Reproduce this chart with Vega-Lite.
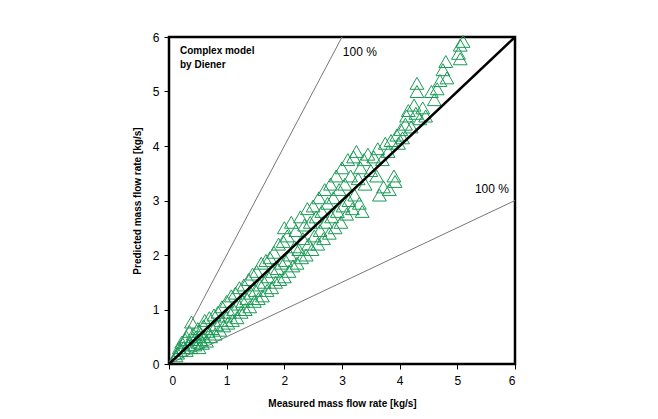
{
  "$schema": "https://vega.github.io/schema/vega-lite/v6.json",
  "autosize": "none",
  "width": 346,
  "height": 327,
  "padding": {"left": 169, "top": 37, "right": 143, "bottom": 55},
  "background": "white",
  "config": {
    "font": "Liberation Sans",
    "view": {"stroke": "#000", "strokeWidth": 2.5},
    "axis": {"grid": false, "domain": false, "tickColor": "#000", "tickSize": 5, "labelFontSize": 12, "labelColor": "#000", "titleFontSize": 10, "titleFontWeight": "bold", "titleColor": "#000", "format": "d"}
  },
  "datasets": {
    "pts": [
      {"m":0.12,"p":0.15},{"m":0.15,"p":0.2},{"m":0.18,"p":0.3},{"m":0.2,"p":0.25},{"m":0.22,"p":0.4},{"m":0.25,"p":0.3},{"m":0.28,"p":0.45},{"m":0.3,"p":0.25},{"m":0.3,"p":0.5},{"m":0.33,"p":0.35},{"m":0.35,"p":0.6},{"m":0.38,"p":0.3},{"m":0.39,"p":0.77},{"m":0.4,"p":0.45},{"m":0.42,"p":0.55},{"m":0.45,"p":0.35},{"m":0.47,"p":0.5},{"m":0.5,"p":0.65},{"m":0.5,"p":0.4},{"m":0.52,"p":0.3},{"m":0.55,"p":0.55},{"m":0.55,"p":0.45},{"m":0.58,"p":0.38},{"m":0.6,"p":0.7},{"m":0.6,"p":0.5},
      {"m":0.62,"p":0.8},{"m":0.65,"p":0.42},{"m":0.68,"p":0.6},{"m":0.7,"p":0.85},{"m":0.72,"p":0.5},{"m":0.75,"p":0.65},{"m":0.78,"p":0.9},{"m":0.8,"p":0.55},{"m":0.82,"p":0.72},{"m":0.85,"p":0.95},{"m":0.88,"p":0.62},{"m":0.9,"p":0.8},{"m":0.92,"p":1.05},{"m":0.95,"p":0.7},{"m":0.98,"p":0.88},{"m":1.0,"p":1.15},{"m":1.02,"p":0.75},{"m":1.05,"p":0.95},{"m":1.08,"p":1.25},{"m":1.1,"p":0.8},{"m":1.12,"p":1.0},{"m":1.15,"p":1.3},{"m":1.18,"p":0.85},{"m":1.2,"p":1.1},
      {"m":1.22,"p":1.4},{"m":1.25,"p":0.95},{"m":1.28,"p":1.15},{"m":1.3,"p":1.45},{"m":1.32,"p":1.0},{"m":1.35,"p":1.2},{"m":1.38,"p":1.55},{"m":1.4,"p":1.05},{"m":1.42,"p":1.3},{"m":1.45,"p":1.65},{"m":1.48,"p":1.15},{"m":1.5,"p":1.35},{"m":1.52,"p":1.7},{"m":1.55,"p":1.2},{"m":1.58,"p":1.45},{"m":1.6,"p":1.85},{"m":1.62,"p":1.25},{"m":1.65,"p":1.5},{"m":1.68,"p":1.9},{"m":1.7,"p":1.35},{"m":1.72,"p":1.6},{"m":1.75,"p":1.95},{"m":1.78,"p":1.4},{"m":1.8,"p":1.7},{"m":1.82,"p":2.05},{"m":1.85,"p":1.5},{"m":1.88,"p":1.75},{"m":1.9,"p":2.2},{"m":1.92,"p":1.55},{"m":1.95,"p":1.85},{"m":1.98,"p":2.25},{"m":2.0,"p":1.6},
      {"m":2.0,"p":2.5},{"m":2.02,"p":1.9},{"m":2.05,"p":2.35},{"m":2.08,"p":1.7},{"m":2.1,"p":2.0},{"m":2.12,"p":2.6},{"m":2.15,"p":1.8},{"m":2.18,"p":2.15},{"m":2.2,"p":2.45},{"m":2.22,"p":1.85},{"m":2.25,"p":2.1},{"m":2.28,"p":2.7},{"m":2.3,"p":1.95},{"m":2.32,"p":2.3},{"m":2.35,"p":2.55},{"m":2.38,"p":2.0},{"m":2.4,"p":2.85},{"m":2.42,"p":2.2},{"m":2.45,"p":2.6},{"m":2.48,"p":2.1},{"m":2.5,"p":2.9},{"m":2.52,"p":2.35},{"m":2.55,"p":2.7},{"m":2.58,"p":2.2},{"m":2.6,"p":3.05},{"m":2.62,"p":2.45},{"m":2.65,"p":2.8},{"m":2.68,"p":2.3},{"m":2.7,"p":3.2},{"m":2.72,"p":2.6},{"m":2.75,"p":2.95},{"m":2.78,"p":2.4},{"m":2.8,"p":3.3},{"m":2.82,"p":2.7},{"m":2.85,"p":3.05},{"m":2.88,"p":2.5},{"m":2.9,"p":3.45},{"m":2.92,"p":2.8},{"m":2.95,"p":3.2},{"m":2.98,"p":2.6},
      {"m":3.0,"p":3.6},{"m":3.02,"p":2.9},{"m":3.05,"p":3.3},{"m":3.08,"p":2.75},{"m":3.1,"p":3.75},{"m":3.12,"p":3.0},{"m":3.15,"p":3.45},{"m":3.18,"p":2.85},{"m":3.2,"p":3.8},{"m":3.22,"p":3.1},{"m":3.25,"p":3.9},{"m":3.28,"p":3.4},{"m":3.3,"p":2.95},{"m":3.32,"p":3.6},{"m":3.35,"p":2.8},{"m":3.38,"p":3.75},{"m":3.4,"p":3.3},{"m":3.45,"p":3.85},{"m":3.5,"p":3.55},{"m":3.55,"p":3.8},{"m":3.6,"p":3.45},{"m":3.62,"p":3.95},{"m":3.65,"p":3.1},{"m":3.7,"p":3.75},{"m":3.72,"p":3.25},{"m":3.75,"p":4.05},{"m":3.8,"p":3.9},{"m":3.82,"p":3.2},{"m":3.85,"p":4.1},{"m":3.9,"p":3.45},{"m":3.92,"p":3.35},{"m":3.95,"p":4.2},{"m":3.98,"p":4.05},
      {"m":4.02,"p":4.3},{"m":4.05,"p":4.15},{"m":4.1,"p":4.4},{"m":4.12,"p":4.55},{"m":4.15,"p":4.65},{"m":4.2,"p":4.35},{"m":4.25,"p":4.75},{"m":4.28,"p":4.6},{"m":4.3,"p":5.15},{"m":4.3,"p":5.0},{"m":4.35,"p":4.5},{"m":4.4,"p":4.7},{"m":4.45,"p":4.55},{"m":4.55,"p":5.0},{"m":4.6,"p":4.85},{"m":4.65,"p":5.05},{"m":4.7,"p":5.2},{"m":4.75,"p":5.4},{"m":4.8,"p":5.55},{"m":4.82,"p":5.25},{"m":5.02,"p":5.7},{"m":5.05,"p":5.6},{"m":5.05,"p":5.85},{"m":5.1,"p":5.92}
    ],
    "lines": [
      {"x1":0,"y1":0,"x2":3,"y2":6,"k":"upper"},
      {"x1":0,"y1":0,"x2":6,"y2":3,"k":"lower"}
    ],
    "diag": [{"x1":0,"y1":0,"x2":6,"y2":6}],
    "labels": [
      {"x":0.19,"y":5.74,"t":"Complex model"},
      {"x":0.19,"y":5.49,"t":"by Diener"}
    ],
    "pct": [
      {"x":3.31,"y":5.72,"t":"100 %"},
      {"x":5.6,"y":3.21,"t":"100 %"}
    ]
  },
  "layer": [
    {
      "data": {"name": "lines"},
      "mark": {"type": "rule", "color": "#777777", "strokeWidth": 1},
      "encoding": {
        "x": {"field": "x1", "type": "quantitative", "scale": {"domain": [0, 6], "nice": false}, "axis": {"values": [0,1,2,3,4,5,6], "title": "Measured mass flow rate [kg/s]", "titlePadding": 12, "labelPadding": 6}},
        "y": {"field": "y1", "type": "quantitative", "scale": {"domain": [0, 6], "nice": false}, "axis": {"values": [0,1,2,3,4,5,6], "title": "Predicted mass flow rate [kg/s]", "titlePadding": 10, "labelPadding": 5}},
        "x2": {"field": "x2"},
        "y2": {"field": "y2"}
      }
    },
    {
      "data": {"name": "pts"},
      "mark": {"type": "point", "shape": "triangle-up", "filled": false, "stroke": "#1a9a55", "strokeWidth": 1, "size": 190, "opacity": 1},
      "encoding": {
        "x": {"field": "m", "type": "quantitative"},
        "y": {"field": "p", "type": "quantitative"}
      }
    },
    {
      "data": {"name": "diag"},
      "mark": {"type": "rule", "color": "#000000", "strokeWidth": 2.5},
      "encoding": {
        "x": {"field": "x1", "type": "quantitative"},
        "y": {"field": "y1", "type": "quantitative"},
        "x2": {"field": "x2"},
        "y2": {"field": "y2"}
      }
    },
    {
      "data": {"name": "labels"},
      "mark": {"type": "text", "align": "left", "baseline": "middle", "fontSize": 10, "fontWeight": "bold", "color": "#000"},
      "encoding": {
        "x": {"field": "x", "type": "quantitative"},
        "y": {"field": "y", "type": "quantitative"},
        "text": {"field": "t"}
      }
    },
    {
      "data": {"name": "pct"},
      "mark": {"type": "text", "align": "center", "baseline": "middle", "fontSize": 12, "color": "#000"},
      "encoding": {
        "x": {"field": "x", "type": "quantitative"},
        "y": {"field": "y", "type": "quantitative"},
        "text": {"field": "t"}
      }
    }
  ]
}
